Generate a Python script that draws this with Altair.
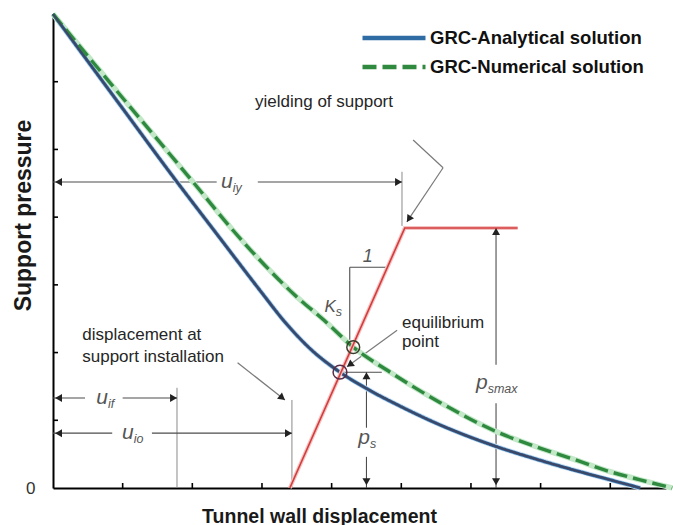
import math
import altair as alt
import pandas as pd

# ---- plot frame: pixels per unit of displacement / pressure ----
W, H = 613, 474
X_MAX, Y_MAX = 8.8, 7.0
SX, SY = W / X_MAX, H / Y_MAX

FONT = "Liberation Sans"
TEXT_INK = "#262626"
SYMBOL_INK = "#555555"
DIM_INK = "#4d4d4d"
GUIDE_INK = "#8a8a8a"
POINTER_INK = "#7a7a7a"

SERIES = ["GRC-Analytical solution", "GRC-Numerical solution"]

# ---- ground reaction curves ----
ana_u = [0.00, 0.96, 1.78, 2.33, 2.97, 3.33, 3.72, 4.12, 4.55, 4.98, 5.56, 6.37, 6.99, 7.46, 8.00, 8.43]
ana_p = [7.00, 5.66, 4.52, 3.78, 2.92, 2.45, 2.03, 1.71, 1.44, 1.21, 0.93, 0.61, 0.41, 0.27, 0.12, 0.00]
num_u = [0.00, 1.00, 2.01, 2.58, 3.04, 3.47, 3.90, 4.31, 4.84, 5.56, 6.37, 6.99, 7.46, 8.00, 8.43, 8.89]
num_p = [7.00, 5.76, 4.52, 3.81, 3.29, 2.85, 2.47, 2.08, 1.71, 1.26, 0.83, 0.59, 0.43, 0.24, 0.12, 0.00]

# ---- support characteristic (elastic branch, then yield plateau) ----
sup_u = [3.40, 5.05, 6.67]
sup_p = [0.00, 3.84, 3.84]

# ---- equilibrium points (numerical, analytical) ----
eq_u = [4.31, 4.12]
eq_p = [2.08, 1.71]

# ---- axis tick positions ----
x_ticks = [1, 2, 3, 4, 5, 6, 7, 8]
y_ticks = [1, 2, 3, 4, 5, 6]

# ---- dimension lines (u, p, u2, p2) ----
dim_lines = [
    (0.00, 4.52, 2.35, 4.52), (2.94, 4.52, 5.01, 4.52),   # u_iy
    (0.00, 1.33, 0.46, 1.33), (1.00, 1.33, 1.78, 1.33),   # u_if
    (0.00, 0.81, 0.85, 0.81), (1.42, 0.81, 3.43, 0.81),   # u_io
    (4.50, 1.71, 4.50, 0.89), (4.50, 0.46, 4.50, 0.00),   # p_s
    (6.36, 3.84, 6.36, 1.82), (6.36, 1.25, 6.36, 0.00),   # p_smax
    (4.12, 1.71, 4.72, 1.71),                             # p_s level
    (4.26, 3.26, 4.26, 2.19), (4.26, 3.26, 4.80, 3.26),   # stiffness triangle
]
guide_lines = [
    (5.01, 4.67, 5.01, 3.87),
    (1.78, 1.48, 1.78, 0.00),
    (3.43, 1.30, 3.43, 0.00),
]
pointer_lines = [
    (5.17, 5.14, 5.60, 4.73), (5.60, 4.73, 5.08, 3.93),   # yielding of support
    (2.65, 1.85, 3.33, 1.30),                             # displacement at installation
    (4.94, 2.33, 4.22, 1.79),                             # equilibrium point
]
# arrow tips (u, p) with a point the arrow comes from
arrow_tips = [
    (0.03, 4.52, 1.00, 4.52), (5.01, 4.52, 4.00, 4.52),
    (0.03, 1.33, 0.30, 1.33), (1.78, 1.33, 1.50, 1.33),
    (0.03, 0.81, 0.50, 0.81), (3.43, 0.81, 3.00, 0.81),
    (4.50, 1.71, 4.50, 1.20), (4.50, 0.04, 4.50, 0.30),
    (6.36, 3.84, 6.36, 3.00), (6.36, 0.04, 6.36, 0.50),
    (5.08, 3.93, 5.60, 4.73),
    (3.33, 1.30, 2.65, 1.85),
    (4.22, 1.79, 4.94, 2.33),
]

# ---- annotation text ----
note_u = [2.90, 0.42, 0.42, 5.01, 5.01]
note_p = [5.63, 2.19, 1.86, 2.36, 2.08]
note_text = ["yielding  of support", "displacement at", "support installation", "equilibrium", "point"]

sym_u = [2.58, 0.79, 1.16, 4.55, 6.24, 4.06, 4.59]
sym_p = [4.43, 1.24, 0.72, 0.65, 1.46, 2.60, 3.34]
sym_main = ["u", "u", "u", "p", "p", "K", "1"]
sym_sub = ["iy", "if", "io", "s", "smax", "s", ""]
sym_size = [21, 21, 21, 21, 21, 17, 18]

# ---- tables ----
curves = pd.concat([
    pd.DataFrame({"u": ana_u, "p": ana_p, "series": SERIES[0]}),
    pd.DataFrame({"u": num_u, "p": num_p, "series": SERIES[1]}),
], ignore_index=True)
support = pd.DataFrame({"u": sup_u, "p": sup_p})


def seg_frame(rows):
    return pd.DataFrame(rows, columns=["u", "p", "u2", "p2"])


TRI = 64
tip_back = math.sqrt(TRI) / 2 * math.sqrt(3) / 2
heads = []
for tu, tp, fu, fp in arrow_tips:
    dx = (tu - fu) * SX
    dy = -(tp - fp) * SY
    n = math.hypot(dx, dy)
    ux, uy = dx / n, dy / n
    heads.append({
        "u": tu - tip_back * ux / SX,
        "p": tp + tip_back * uy / SY,
        "angle": math.degrees(math.atan2(ux, -uy)) % 360,
    })
heads = pd.DataFrame(heads)

notes = pd.DataFrame({"u": note_u, "p": note_p, "text": note_text})
symbols = pd.DataFrame({"u": sym_u, "p": sym_p, "main": sym_main, "sub": sym_sub, "size": sym_size})

# ---- scales and axes ----
x_scale = alt.Scale(domain=[0, X_MAX], nice=False, zero=False)
y_scale = alt.Scale(domain=[0, Y_MAX], nice=False, zero=False)

x_axis = alt.Axis(
    title="Tunnel wall displacement", labels=False, ticks=False, grid=False,
    domainColor="#000000", domainWidth=2,
    titleFont=FONT, titleFontSize=19.5, titleFontWeight="bold", titleColor="#1a1a1a",
    titleX=266, titleY=34, titleBaseline="alphabetic",
)
y_axis = alt.Axis(
    title="Support pressure", values=[0], labelExpr="datum.value == 0 ? '0' : ''",
    ticks=False, grid=False, domainColor="#000000", domainWidth=2,
    labelFont=FONT, labelFontSize=17, labelColor="#333333", labelPadding=18, labelFlush=False,
    titleFont=FONT, titleFontSize=23, titleFontWeight="bold", titleColor="#1a1a1a",
    titleX=-30, titleY=201, titleBaseline="middle",
)


def X(field="u"):
    return alt.X(f"{field}:Q", scale=x_scale, axis=x_axis)


def Y(field="p"):
    return alt.Y(f"{field}:Q", scale=y_scale, axis=y_axis)


# ---- layers ----
x_tick_marks = alt.Chart(pd.DataFrame({"u": x_ticks})).mark_rule(color="#000", strokeWidth=1.6).encode(
    x=X(), y=alt.value(H), y2=alt.value(H - 5))
y_tick_marks = alt.Chart(pd.DataFrame({"p": y_ticks})).mark_rule(color="#000", strokeWidth=1.6).encode(
    y=Y(), x=alt.value(0), x2=alt.value(5))


def seg_layer(rows, color, width):
    return alt.Chart(seg_frame(rows)).mark_rule(color=color, strokeWidth=width).encode(
        x=X(), x2="u2:Q", y=Y(), y2="p2:Q")


guides = seg_layer(guide_lines, GUIDE_INK, 1)
dims = seg_layer(dim_lines, DIM_INK, 1.1)
pointers = seg_layer(pointer_lines, POINTER_INK, 1.2)

base_curves = alt.Chart(curves)
ana_halo = base_curves.transform_filter(alt.datum.series == SERIES[0]).mark_line(
    color="#cfe1f2", strokeWidth=5, interpolate="monotone").encode(x=X(), y=Y())
num_halo = base_curves.transform_filter(alt.datum.series == SERIES[1]).mark_line(
    color="#c2e8c8", strokeWidth=5.5, interpolate="monotone").encode(x=X(), y=Y())
curve_lines = base_curves.mark_line(strokeWidth=3.4, interpolate="monotone").encode(
    x=X(), y=Y(),
    color=alt.Color("series:N", scale=alt.Scale(domain=SERIES, range=["#2f6ca3", "#2f8a3f"]),
                    legend=alt.Legend(
                        orient="none", legendX=307, legendY=14, title=None, padding=0,
                        symbolType="stroke", symbolSize=3969, symbolStrokeWidth=4.5,
                        clipHeight=20,
                        labelFont=FONT, labelFontSize=18.5, labelFontWeight="bold",
                        labelColor="#111111", labelOffset=2, labelLimit=400, rowPadding=9)),
    strokeDash=alt.StrokeDash("series:N", scale=alt.Scale(domain=SERIES, range=[[1, 0], [14, 6]]),
                              legend=None),
)
ana_core = base_curves.transform_filter(alt.datum.series == SERIES[0]).mark_line(
    color="#3e4665", strokeWidth=2, interpolate="monotone").encode(x=X(), y=Y())

support_halo = alt.Chart(support).mark_line(color="#f5c2c2", strokeWidth=4).encode(x=X(), y=Y())
support_line = alt.Chart(support).mark_line(color="#d23c3c", strokeWidth=1.6).encode(x=X(), y=Y())

eq_num = alt.Chart(pd.DataFrame({"u": eq_u[:1], "p": eq_p[:1]})).mark_point(
    shape="circle", filled=False, size=165, strokeWidth=1.5, color="#3d3d2c", opacity=1).encode(x=X(), y=Y())
eq_ana = alt.Chart(pd.DataFrame({"u": eq_u[1:], "p": eq_p[1:]})).mark_point(
    shape="circle", filled=False, size=190, strokeWidth=1.5, color="#5b2c48", opacity=1).encode(x=X(), y=Y())

arrowheads = alt.Chart(heads).mark_point(
    shape="triangle-up", filled=True, size=TRI, color="#222222", opacity=1).encode(
    x=X(), y=Y(), angle=alt.Angle("angle:Q", scale=None))

note_text_layer = alt.Chart(notes).mark_text(
    align="left", baseline="alphabetic", font=FONT, fontSize=17, color=TEXT_INK).encode(
    x=X(), y=Y(), text="text:N")
sym_main_layer = alt.Chart(symbols).mark_text(
    align="right", baseline="alphabetic", font=FONT, fontStyle="italic", color=SYMBOL_INK).encode(
    x=X(), y=Y(), text="main:N", size=alt.Size("size:Q", scale=None))
sym_sub_layer = alt.Chart(symbols).mark_text(
    align="left", baseline="alphabetic", font=FONT, fontStyle="italic", fontSize=12.5, dy=4,
    color=SYMBOL_INK).encode(x=X(), y=Y(), text="sub:N")

chart = alt.layer(
    x_tick_marks, y_tick_marks, guides, dims, pointers,
    ana_halo, num_halo, curve_lines, ana_core,
    support_halo, support_line, eq_num, eq_ana, arrowheads,
    note_text_layer, sym_main_layer, sym_sub_layer,
).properties(
    width=W, height=H,
    padding={"left": 53, "top": 14, "right": 7, "bottom": 37},
    autosize=alt.AutoSizeParams(type="none"),
    background="white",
).configure_view(stroke=None)

chart.save("out.html", embed_options={"renderer": "svg", "actions": False})
